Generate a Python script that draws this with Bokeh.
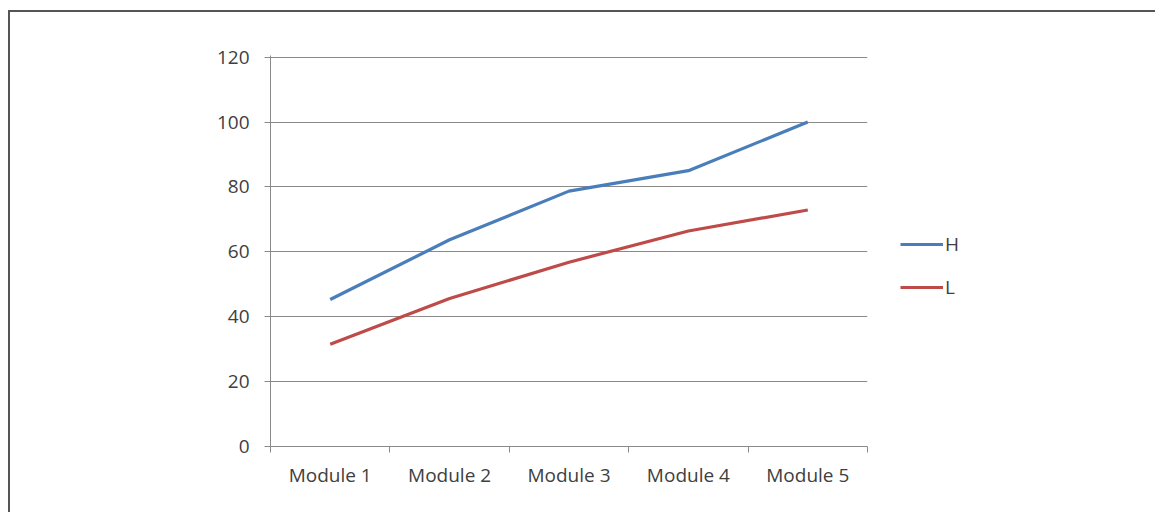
from bokeh.plotting import figure
from bokeh.models import Range1d, FixedTicker, Legend, LegendItem
from bokeh.embed import file_html
from bokeh.resources import INLINE

categories = ["Module 1", "Module 2", "Module 3", "Module 4", "Module 5"]
series_h = [45.3, 63.7, 78.7, 85.0, 100.0]
series_l = [31.5, 45.6, 56.8, 66.4, 72.9]
y_ticks = [0, 20, 40, 60, 80, 100, 120]

xs = [i + 0.5 for i in range(len(categories))]

FONT = "Open Sans"
TXT = "#404040"
GRID = "#8a8a8a"

p = figure(frame_width=597, frame_height=391, output_backend="svg", toolbar_location=None,
           x_range=Range1d(0, len(categories)), y_range=Range1d(0, 120.5),
           min_border_left=260, min_border_right=288, min_border_top=43, min_border_bottom=66)
p.styles = {"border-left": "2px solid #555555", "border-top": "2px solid #555555",
            "margin-top": "10px", "margin-left": "8px"}
p.outline_line_color = None
p.background_fill_color = "white"
p.border_fill_color = "white"

hr = p.line(xs, series_h, line_color="#4a7ebb", line_width=3.2)
lr = p.line(xs, series_l, line_color="#be4b48", line_width=3.2)

p.xaxis.ticker = FixedTicker(ticks=xs, minor_ticks=list(range(len(categories) + 1)))
p.xaxis.major_label_overrides = {x: c for x, c in zip(xs, categories)}
p.xaxis.major_tick_out = 0
p.xaxis.major_tick_in = 0
p.xaxis.minor_tick_out = 6
p.xaxis.minor_tick_in = 0
p.xaxis.minor_tick_line_color = GRID
p.xaxis.axis_line_color = GRID
p.xaxis.major_label_standoff = 9
p.xaxis.major_label_text_font = FONT
p.xaxis.major_label_text_font_size = "19px"
p.xaxis.major_label_text_color = TXT

p.yaxis.ticker = FixedTicker(ticks=y_ticks, minor_ticks=[])
p.yaxis.major_tick_out = 6
p.yaxis.major_tick_in = 0
p.yaxis.major_tick_line_color = GRID
p.yaxis.axis_line_color = GRID
p.yaxis.major_label_standoff = 15
p.yaxis.major_label_text_font = FONT
p.yaxis.major_label_text_font_size = "19px"
p.yaxis.major_label_text_color = TXT

p.xgrid.grid_line_color = None
p.ygrid.ticker = FixedTicker(ticks=y_ticks)
p.ygrid.grid_line_color = GRID
p.ygrid.grid_line_width = 1

legend = Legend(items=[LegendItem(label="H", renderers=[hr]), LegendItem(label="L", renderers=[lr])],
                location=(33, 146), orientation="vertical",
                glyph_width=43, glyph_height=20, label_height=20, spacing=17,
                label_standoff=2, padding=0, margin=0,
                border_line_color=None, background_fill_alpha=0,
                label_text_font=FONT, label_text_font_size="19px", label_text_color=TXT)
p.add_layout(legend, "right")

open("out.html", "w").write(file_html(p, INLINE))
